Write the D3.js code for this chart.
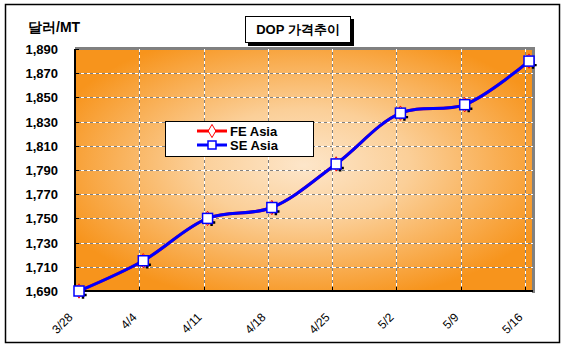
<!DOCTYPE html>
<html>
<head>
<meta charset="utf-8">
<script src="https://cdn.jsdelivr.net/npm/d3@7"></script>
<style>
body { margin: 0; background: #fff; }
text { font-family: "Liberation Sans", Arial, sans-serif; }
</style>
</head>
<body>
<div id="graph"></div>
<script>
// data
var dates = ["3/28", "4/4", "4/11", "4/18", "4/25", "5/2", "5/9", "5/16"];
var feAsia = [1690, 1715, 1750, 1759, 1795, 1837, 1844, 1880];
var seAsia = [1690, 1715, 1750, 1759, 1795, 1837, 1844, 1880];
var yTicks = [1690, 1710, 1730, 1750, 1770, 1790, 1810, 1830, 1850, 1870, 1890];

var W = 566, H = 352;
var svg = d3.select("#graph").append("svg")
    .attr("width", W).attr("height", H);

// outer frame
svg.append("rect")
    .attr("x", 5.5).attr("y", 4.5)
    .attr("width", 554).attr("height", 338)
    .attr("fill", "#fff").attr("stroke", "#000").attr("stroke-width", 1.5);

var x = d3.scaleLinear().domain([0, 7]).range([79, 529]);
var y = d3.scaleLinear().domain([1690, 1890]).range([291, 49]);
var off = 0.062; // grid offset from the points, in category units
var x0 = x(-off), x1 = x(7 + off);

var defs = svg.append("defs");
var grad = defs.append("radialGradient").attr("id", "bg")
    .attr("cx", 0.5).attr("cy", 0.48).attr("r", 0.58);
grad.append("stop").attr("offset", "0%").attr("stop-color", "#fde6ca");
grad.append("stop").attr("offset", "40%").attr("stop-color", "#fbcf98");
grad.append("stop").attr("offset", "100%").attr("stop-color", "#f7941c");

// plot background with gray border on top/right
svg.append("rect")
    .attr("x", x0).attr("y", y(1890))
    .attr("width", x1 - x0).attr("height", y(1690) - y(1890))
    .attr("fill", "url(#bg)");
svg.append("path")
    .attr("d", "M" + x0 + "," + (y(1890) - 0.5) + "H" + (x1 + 0.5) + "V" + (y(1690) + 2))
    .attr("fill", "none").attr("stroke", "#808080").attr("stroke-width", 3);

// grid
var grid = svg.append("g");
yTicks.slice(1, -1).forEach(function(t) {
    grid.append("line").attr("x1", x0).attr("x2", x1)
        .attr("y1", Math.round(y(t)) + 0.5).attr("y2", Math.round(y(t)) + 0.5)
        .attr("stroke", "#808080");
    grid.append("line").attr("x1", x0).attr("x2", x1)
        .attr("y1", Math.round(y(t)) + 0.5).attr("y2", Math.round(y(t)) + 0.5)
        .attr("stroke", "#fff").attr("stroke-dasharray", "3,3");
});
dates.forEach(function(d, i) {
    if (i == 0) return;
    var gx = Math.round(x(i - off)) + 0.5;
    grid.append("line").attr("x1", gx).attr("x2", gx)
        .attr("y1", y(1890)).attr("y2", y(1690))
        .attr("stroke", "#808080");
    grid.append("line").attr("x1", gx).attr("x2", gx)
        .attr("y1", y(1890)).attr("y2", y(1690))
        .attr("stroke", "#fff").attr("stroke-dasharray", "3,3");
});

// axes
svg.append("line").attr("x1", x0).attr("x2", x0)
    .attr("y1", y(1890)).attr("y2", y(1690) + 1)
    .attr("stroke", "#000").attr("stroke-width", 2);
svg.append("line").attr("x1", x0 - 1).attr("x2", x1)
    .attr("y1", y(1690)).attr("y2", y(1690))
    .attr("stroke", "#000").attr("stroke-width", 2);
yTicks.forEach(function(t) {
    svg.append("line").attr("x1", x0).attr("x2", x0 + 4)
        .attr("y1", Math.round(y(t)) + 0.5).attr("y2", Math.round(y(t)) + 0.5)
        .attr("stroke", "#000");
    svg.append("text")
        .attr("x", 58).attr("y", y(t) + 5)
        .attr("text-anchor", "end")
        .attr("font-size", 13).attr("font-weight", "bold")
        .text(d3.format(",")(t));
});
dates.forEach(function(d, i) {
    var gx = Math.round(x(i - off)) + 0.5;
    svg.append("line").attr("x1", gx).attr("x2", gx)
        .attr("y1", y(1690) - 4).attr("y2", y(1690))
        .attr("stroke", "#000");
    svg.append("text")
        .attr("transform", "translate(" + (gx - 2) + ",318) rotate(-45)")
        .attr("text-anchor", "end")
        .attr("font-size", 12)
        .text(d);
});

// series
var line = d3.line()
    .x(function(d, i) { return x(i); })
    .y(function(d) { return y(d); })
    .curve(d3.curveCatmullRom.alpha(0.5));

svg.append("path").datum(feAsia).attr("d", line)
    .attr("fill", "none").attr("stroke", "#ff0000").attr("stroke-width", 3);

var diamond = d3.symbol().type(d3.symbolDiamond).size(60);
// marker shadows
svg.selectAll(".shadow").data(feAsia).enter().append("path")
    .attr("transform", function(d, i) { return "translate(" + (x(i) + 4) + "," + (y(d) + 4) + ")"; })
    .attr("d", d3.symbol().type(d3.symbolCross).size(30)).attr("fill", "#000");
svg.selectAll(".fe").data(feAsia).enter().append("path")
    .attr("transform", function(d, i) { return "translate(" + x(i) + "," + y(d) + ")"; })
    .attr("d", diamond).attr("fill", "#fff").attr("stroke", "#ff0000").attr("stroke-width", 1);

svg.append("path").datum(seAsia).attr("d", line)
    .attr("fill", "none").attr("stroke", "#0000ff").attr("stroke-width", 3);
svg.selectAll(".se").data(seAsia).enter().append("rect")
    .attr("x", function(d, i) { return x(i) - 5; })
    .attr("y", function(d) { return y(d) - 5; })
    .attr("width", 10).attr("height", 10)
    .attr("fill", "#fff").attr("stroke", "#0000ff").attr("stroke-width", 1.5);

// legend
var lg = svg.append("g");
lg.append("rect").attr("x", 165.5).attr("y", 121.5).attr("width", 148).attr("height", 35)
    .attr("fill", "#fff").attr("stroke", "#000");
var items = [{name: "FE Asia", color: "#ff0000"}, {name: "SE Asia", color: "#0000ff"}];
items.forEach(function(it, k) {
    var ly = 131 + k * 14;
    lg.append("line").attr("x1", 197).attr("x2", 227).attr("y1", ly).attr("y2", ly)
        .attr("stroke", it.color).attr("stroke-width", 3);
    if (k == 0) {
        lg.append("path").attr("transform", "translate(212," + ly + ")")
            .attr("d", d3.symbol().type(d3.symbolDiamond).size(50))
            .attr("fill", "#fff").attr("stroke", it.color);
    } else {
        lg.append("rect").attr("x", 208).attr("y", ly - 4).attr("width", 8).attr("height", 8)
            .attr("fill", "#fff").attr("stroke", it.color).attr("stroke-width", 1.5);
    }
    lg.append("text").attr("x", 230).attr("y", ly + 5)
        .attr("font-size", 13).attr("font-weight", "bold")
        .text(it.name);
});

// title box
svg.append("rect").attr("x", 248).attr("y", 19).attr("width", 106).attr("height", 27).attr("fill", "#000");
svg.append("rect").attr("x", 245.5).attr("y", 16.5).attr("width", 105).attr("height", 26)
    .attr("fill", "#fff").attr("stroke", "#000");
svg.append("text").attr("x", 298).attr("y", 34)
    .attr("text-anchor", "middle")
    .attr("font-size", 13).attr("font-weight", "bold")
    .text("DOP 가격추이");

// y axis unit
svg.append("text").attr("x", 28).attr("y", 32)
    .attr("font-size", 14).attr("font-weight", "bold")
    .text("달러/MT");
</script>
</body>
</html>
